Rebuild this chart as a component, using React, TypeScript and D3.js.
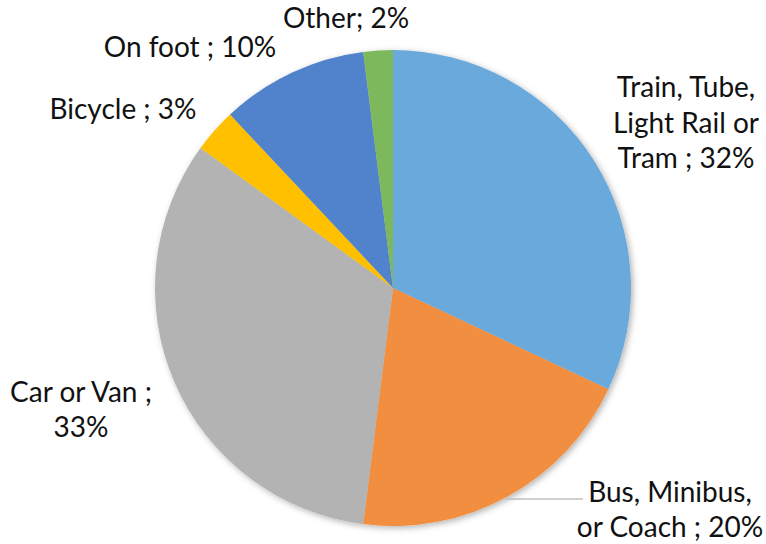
import React from "react";
import * as d3 from "d3";

const categories = ["Train, Tube, Light Rail or Tram", "Bus, Minibus, or Coach", "Car or Van", "Bicycle", "On foot", "Other"];
const values = [32, 20, 33, 3, 10, 2];
const colors = ["#6AA9DC", "#F28E3F", "#B3B3B3", "#FFC000", "#5182CC", "#7DB95C"];
const labelLines = [
  ["Train, Tube,", "Light Rail or", "Tram ; 32%"],
  ["Bus, Minibus,", "or Coach ; 20%"],
  ["Car or Van ;", "33%"],
  ["Bicycle ; 3%"],
  ["On foot ; 10%"],
  ["Other; 2%"],
];

const W = 766, H = 544;
const cx = 393, cy = 288, R = 238;

const labelPos: { x: number; y: number; lh: number }[] = [
  { x: 686, y: 97, lh: 35.5 },
  { x: 670, y: 502, lh: 35 },
  { x: 81, y: 402, lh: 35 },
  { x: 123, y: 119, lh: 35 },
  { x: 190, y: 57, lh: 35 },
  { x: 346, y: 28, lh: 35 },
];

export default function App() {
  const pie = d3.pie<number>().sort(null).value((d) => d)(values);
  const arc = d3.arc<d3.PieArcDatum<number>>().innerRadius(0).outerRadius(R);
  const leaderY = 499;
  const leaderX0 = cx + Math.sqrt(R * R - (leaderY - cy) ** 2) + 2;
  return (
    <svg width={W} height={H} style={{ position: "absolute", left: 0, top: 0, background: "#fff" }}>
      <defs>
        <filter id="sh" x="-10%" y="-10%" width="120%" height="120%">
          <feDropShadow dx="2" dy="2" stdDeviation="3" floodColor="#000" floodOpacity="0.3" />
        </filter>
      </defs>
      <g transform={`translate(${cx},${cy})`} filter="url(#sh)">
        {pie.map((p, i) => (
          <path key={categories[i]} d={arc(p) || ""} fill={colors[i]} />
        ))}
      </g>
      <line x1={leaderX0} x2={583} y1={leaderY} y2={leaderY} stroke="#BFBFBF" strokeWidth={1.5} />
      <g fontFamily="Lato, 'Open Sans', sans-serif" fontSize={28} fill="#111" textAnchor="middle">
        {labelLines.map((lines, i) => (
          <text key={i} x={labelPos[i].x} y={labelPos[i].y}>
            {lines.map((l, j) => (
              <tspan key={j} x={labelPos[i].x} y={labelPos[i].y + j * labelPos[i].lh}>
                {l}
              </tspan>
            ))}
          </text>
        ))}
      </g>
    </svg>
  );
}
